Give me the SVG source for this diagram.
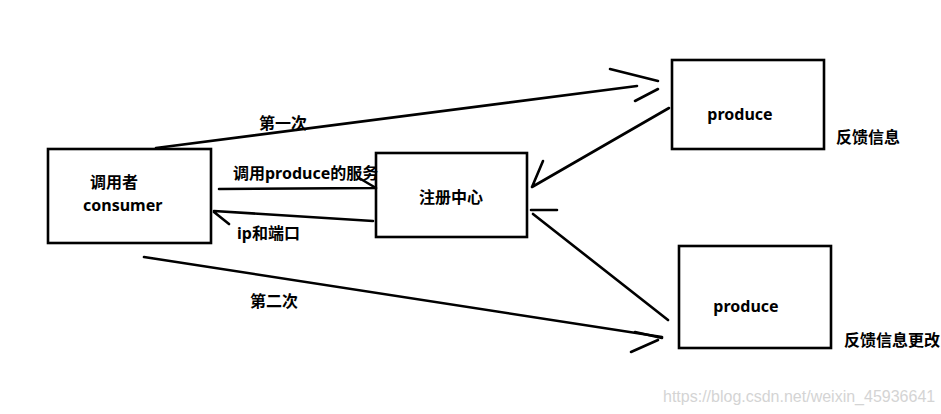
<svg xmlns="http://www.w3.org/2000/svg" width="941" height="414" viewBox="0 0 941 414">
<style>
.box{fill:#fff;stroke:#000;stroke-width:2.6}
.ln{fill:none;stroke:#000;stroke-width:2.6;stroke-linecap:round}
.t{font-family:"Noto Sans","Noto Sans CJK SC",sans-serif;font-weight:bold;font-size:16px;fill:#000}
.wm{font-family:"Liberation Sans",Arial,sans-serif;font-size:16px;fill:#d4d4d4}
</style>
<rect width="941" height="414" fill="#fff"/>
<g id="consumer">
<rect class="box" x="48" y="149" width="163" height="94"/>
<text class="t" x="90" y="188">调用者</text>
<text class="t" x="83" y="211">consumer</text>
</g>
<g id="registry">
<rect class="box" x="376" y="153" width="151" height="84"/>
<text class="t" x="451" y="203" text-anchor="middle">注册中心</text>
</g>
<g id="producer1">
<rect class="box" x="672" y="60" width="152" height="89"/>
<text class="t" x="740" y="120" text-anchor="middle">produce</text>
<text class="t" x="836" y="143" font-size="15.5">反馈信息</text>
</g>
<g id="producer2">
<rect class="box" x="679" y="246" width="152" height="102"/>
<text class="t" x="746" y="312" text-anchor="middle">produce</text>
<text class="t" x="844" y="346" font-size="15.5">反馈信息更改</text>
</g>
<g id="connectors">
<path class="ln" d="M156,148 L637,86"/>
<path class="ln" d="M610,69 L658,81 M635,101 L658,89"/>
<path class="ln" d="M669,108 L532,187 M543,161 L532,187"/>
<path class="ln" d="M668,320 L533,214 M531,210 L557,210"/>
<path class="ln" d="M144,257 L662,337"/>
<path class="ln" d="M635,332 L662,338 M631,352 L658,340"/>
<path class="ln" d="M219,189 L376,188 M359,178 L376,188"/>
<path class="ln" d="M373,221 L214,211 M214,212 L229,224"/>
</g>
<g id="labels">
<text class="t" x="259" y="129" font-size="15">第一次</text>
<text class="t" x="233" y="179">调用produce的服务</text>
<text class="t" x="237" y="239">ip和端口</text>
<text class="t" x="250" y="307" font-size="15">第二次</text>
</g>
<text class="wm" x="663" y="402">https://blog.csdn.net/weixin_45936641</text>
</svg>
